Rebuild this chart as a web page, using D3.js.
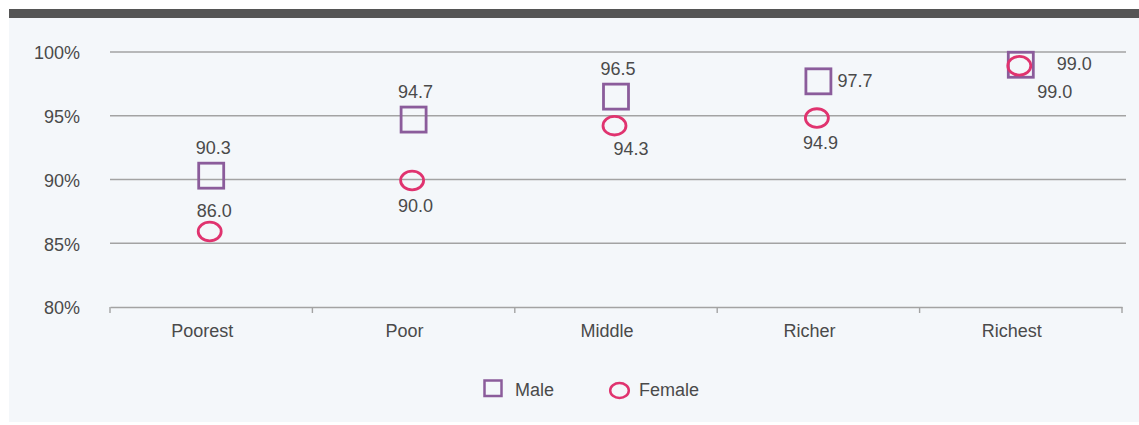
<!DOCTYPE html>
<html><head><meta charset="utf-8">
<script src="https://cdn.jsdelivr.net/npm/d3@7/dist/d3.min.js"></script>
<style>body{margin:0;background:#fff;}svg{display:block;font-family:"Liberation Sans",Arial,sans-serif;}</style>
</head><body>
<svg id="c" width="1139" height="425"></svg>
<script>
const categories = ["Poorest","Poor","Middle","Richer","Richest"];
const male = [90.3, 94.7, 96.5, 97.7, 99.0];
const female = [86.0, 90.0, 94.3, 94.9, 99.0];
const yTicks = [80, 85, 90, 95, 100];
const seriesNames = ["Male","Female"];
// label placement keywords per point
const maleLabelPos = ["top","top","top","right","farright"];
const femaleLabelPos = ["top","bottom","bottomright","bottom","bottomfar"];

const svg = d3.select("#c");
const W = 1139, H = 425;
const FS = 18;
svg.append("rect").attr("x",9).attr("y",18).attr("width",W-9).attr("height",404).attr("fill","#f4f7fa");
svg.append("rect").attr("x",9).attr("y",9).attr("width",W-9).attr("height",9).attr("fill","#555555");

const x = d3.scaleBand().domain(categories).range([110,1122]);
const y = d3.scaleLinear().domain([80,100]).range([307,52]);
const textCol = "#4a4a4a";

// gridlines
svg.append("g").selectAll("line").data(yTicks.filter(d=>d>80)).join("line")
  .attr("x1",110).attr("x2",1126).attr("y1",d=>y(d)).attr("y2",d=>y(d))
  .attr("stroke","#a3a3a3").attr("stroke-width",1.4);

// y axis labels
const yAxis = d3.axisLeft(y).tickValues(yTicks).tickFormat(d=>d+"%").tickSize(0).tickPadding(0);
const yg = svg.append("g").attr("transform","translate(80,1)").call(yAxis);
yg.select(".domain").remove();
yg.selectAll("text").attr("font-size",FS).attr("fill",textCol).attr("font-family","Liberation Sans, Arial, sans-serif");

// x axis
const xAxis = d3.axisBottom(x).tickSize(0).tickPadding(17);
const xg = svg.append("g").attr("transform",`translate(0,${y(80)})`).call(xAxis);
xg.select(".domain").attr("stroke","#a3a3a3").attr("stroke-width",1.4);
xg.selectAll("text").attr("font-size",FS).attr("fill",textCol).attr("font-family","Liberation Sans, Arial, sans-serif").attr("dx",-9);
const edges = categories.map(c=>x(c)).concat([x(categories[categories.length-1])+x.bandwidth()]);
xg.selectAll("line.edge").data(edges).join("line").attr("class","edge")
  .attr("x1",d=>d).attr("x2",d=>d).attr("y1",0).attr("y2",6).attr("stroke","#a3a3a3").attr("stroke-width",1.4);

const purple = "#8b5c9b", pink = "#e0336f";
const cx = c => x(c) + x.bandwidth()/2;

// male squares
const sq = 25;
svg.append("g").selectAll("rect").data(male).join("rect")
  .attr("x",(d,i)=>cx(categories[i])-sq/2).attr("y",d=>y(d)-sq/2)
  .attr("width",sq).attr("height",sq).attr("fill","none").attr("stroke",purple).attr("stroke-width",2.8);

// female circles
svg.append("g").selectAll("ellipse").data(female).join("ellipse")
  .attr("cx",(d,i)=>cx(categories[i])-1.5).attr("cy",d=>y(d)+1)
  .attr("rx",11.5).attr("ry",9.3).attr("fill","none").attr("stroke",pink).attr("stroke-width",2.8);

function labelPos(pos, px, py, series){
  switch(pos){
    case "top": return series==="m" ? [px+2, py-22, "middle"] : [px+3, py-14, "middle"];
    case "bottom": return [px+2, py+32, "middle"];
    case "right": return [px+19, py+6, "start"];
    case "farright": return [px+36, py+5, "start"];
    case "bottomright": return [px+15, py+30, "middle"];
    case "bottomfar": return [px+34, py+33, "middle"];
  }
}
function drawLabels(vals, posArr, series){
  svg.append("g").selectAll("text").data(vals).join("text")
    .each(function(d,i){
      const [tx,ty,anc] = labelPos(posArr[i], cx(categories[i]), y(d), series);
      d3.select(this).attr("x",tx).attr("y",ty).attr("text-anchor",anc);
    })
    .attr("font-size",FS).attr("fill",textCol).text(d=>d.toFixed(1));
}
drawLabels(male, maleLabelPos, "m");
drawLabels(female, femaleLabelPos, "f");

// legend
const lg = svg.append("g");
lg.append("rect").attr("x",484.5).attr("y",380.5).attr("width",17).attr("height",15.5)
  .attr("fill","none").attr("stroke",purple).attr("stroke-width",2.5);
lg.append("text").attr("x",515).attr("y",396).attr("font-size",FS).attr("fill",textCol).text(seriesNames[0]);
lg.append("ellipse").attr("cx",619.5).attr("cy",390.5).attr("rx",9.3).attr("ry",7.5)
  .attr("fill","none").attr("stroke",pink).attr("stroke-width",2.5);
lg.append("text").attr("x",639).attr("y",396).attr("font-size",FS).attr("fill",textCol).text(seriesNames[1]);
</script>
</body></html>
